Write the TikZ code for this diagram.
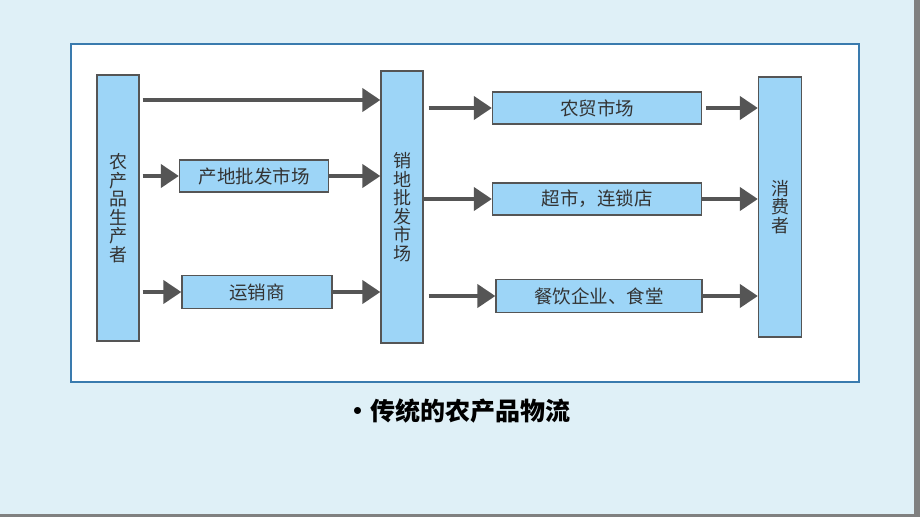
\documentclass[tikz,border=0pt]{standalone}
\usepackage{fontspec}
\usepackage{tikz}
\usetikzlibrary{arrows.meta}
\newfontfamily\cjk{Noto Sans CJK SC}
\definecolor{pagebg}{HTML}{DFF0F7}
\definecolor{framecol}{HTML}{3A7BAE}
\definecolor{boxfill}{HTML}{9DD5F7}
\definecolor{arrowcol}{HTML}{555555}
\definecolor{textcol}{HTML}{333333}

\begin{document}
\begin{tikzpicture}[x=1pt,y=-1pt,
  box/.style={draw=arrowcol, line width=1.3pt, fill=boxfill, inner sep=0pt,
    font=\cjk\fontsize{18.5}{18.5}\selectfont, text=textcol, align=center},
  column/.style={box, font=\cjk\fontsize{18}{18.5}\selectfont},
  flow/.style={draw=arrowcol, line width=4pt, -{Triangle[length=18pt,width=23pt]}}]
% page and frame
\fill[pagebg] (0,0) rectangle (920,517);
\fill[gray] (914,0) rectangle (920,517);
\fill[gray] (0,514) rectangle (920,517);
\useasboundingbox (0,0) rectangle (920,517);
\draw[framecol, line width=2pt, fill=white] (71,44) rectangle (859,382);
% columns
\node[column, minimum width=42pt, minimum height=266pt] (prod) at (118,208) {农\\产\\品\\生\\产\\者};
\node[column, minimum width=42pt, minimum height=272pt] (whole) at (402,207) {销\\地\\批\\发\\市\\场};
\node[column, minimum width=43pt, minimum height=260pt] (cons) at (780,207) {消\\费\\者};
% middle boxes
\node[box, minimum width=149pt, minimum height=32pt] (origin) at (254,176) {产地批发市场};
\node[box, minimum width=150pt, minimum height=33pt] (trader) at (257,292) {运销商};
\node[box, minimum width=209pt, minimum height=32pt] (farm) at (597,108) {农贸市场};
\node[box, minimum width=209pt, minimum height=32pt] (super) at (597,199) {超市，连锁店};
\node[box, minimum width=206pt, minimum height=33pt] (cater) at (599,296) {餐饮企业、食堂};
% arrows
\draw[flow, shorten <=3pt] (prod.east |- 0,100) -- (whole.west |- 0,100);
\draw[flow, shorten <=3pt] (prod.east |- origin.west) -- (origin.west);
\draw[flow] (origin.east) -- (whole.west |- origin.east);
\draw[flow, shorten <=3pt] (prod.east |- trader.west) -- (trader.west);
\draw[flow] (trader.east) -- (whole.west |- trader.east);
\draw[flow, shorten <=5pt] (whole.east |- farm.west) -- (farm.west);
\draw[flow] (whole.east |- super.west) -- (super.west);
\draw[flow, shorten <=5pt] (whole.east |- cater.west) -- (cater.west);
\draw[flow, shorten <=4pt] (farm.east) -- (cons.west |- farm.east);
\draw[flow] (super.east) -- (cons.west |- super.east);
\draw[flow] (cater.east) -- (cons.west |- cater.east);
% caption
\node[font=\cjk\bfseries\fontsize{25}{27}\selectfont] (title) at (458,411) {·传统的农产品物流};
\end{tikzpicture}
\end{document}
